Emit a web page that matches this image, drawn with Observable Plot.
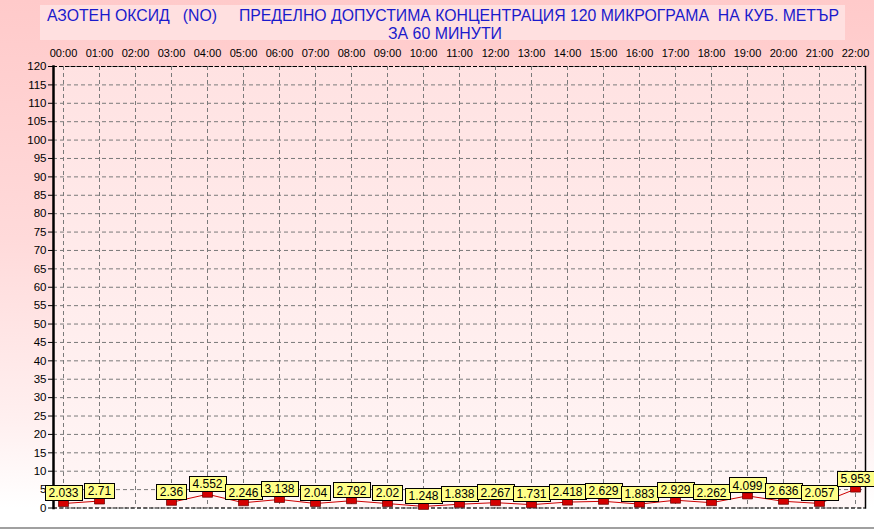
<!DOCTYPE html>
<html>
<head>
<meta charset="utf-8">
<script src="https://cdn.jsdelivr.net/npm/d3@7"></script>
<script src="https://cdn.jsdelivr.net/npm/@observablehq/plot@0.6"></script>
<style>
  html, body { margin: 0; padding: 0; }
  #wrap { position: relative; width: 874px; height: 529px; overflow: hidden;
    background: linear-gradient(to bottom, #ffcaca 0%, #ffdada 45%, #fff0f0 80%, #ffffff 96%);
    font-family: "Liberation Sans", Arial, sans-serif; }
  #titlebox { position: absolute; left: 40px; top: 5px; width: 805px; height: 35px; background: #ffe0e0; }
  #title { position: absolute; left: 0; top: 0; }
  #title text { white-space: pre; }
  #chart { position: absolute; left: 0; top: 0; }
  #bottomline { position: absolute; left: 0; top: 527px; width: 874px; height: 2px; background: #a0a0a0; }
</style>
</head>
<body>
<div id="wrap">
  <div id="titlebox"></div>
  <svg id="title" width="874" height="45">
    <text x="47" y="20.5" font-size="16.5" fill="#1a1acc" xml:space="preserve" textLength="792" lengthAdjust="spacingAndGlyphs" font-family="Liberation Sans, Arial, sans-serif">АЗОТЕН ОКСИД   (NO)     ПРЕДЕЛНО ДОПУСТИМА КОНЦЕНТРАЦИЯ 120 МИКРОГРАМА  НА КУБ. МЕТЪР</text>
    <text x="388" y="38.5" font-size="16.5" fill="#1a1acc" textLength="114" lengthAdjust="spacingAndGlyphs" font-family="Liberation Sans, Arial, sans-serif">ЗА 60 МИНУТИ</text>
  </svg>
  <div id="chart"></div>
  <div id="bottomline"></div>
</div>
<script>
const hours = ["00:00","01:00","02:00","03:00","04:00","05:00","06:00","07:00","08:00","09:00","10:00","11:00",
  "12:00","13:00","14:00","15:00","16:00","17:00","18:00","19:00","20:00","21:00","22:00"];
const values = [2.033, 2.71, null, 2.36, 4.552, 2.246, 3.138, 2.04, 2.792, 2.02, 1.248, 1.838,
  2.267, 1.731, 2.418, 2.629, 1.883, 2.929, 2.262, 4.099, 2.636, 2.057, 5.953];
const yTicks = [0,5,10,15,20,25,30,35,40,45,50,55,60,65,70,75,80,85,90,95,100,105,110,115,120];

const data = hours.map((h, i) => ({hour: h, value: values[i]}));
const present = data.filter(d => d.value != null);

const canvas = document.createElement("canvas");
const ctx = canvas.getContext("2d");
ctx.font = "12px 'Liberation Sans', Arial, sans-serif";

const markerSymbol = { draw(c) { c.rect(-5, -3, 10, 6); } };

function boxedLabels(index, scales, values, dimensions, context, next) {
  const g = next(index, scales, values, dimensions, context);
  const ns = "http://www.w3.org/2000/svg";
  const wrap = document.createElementNS(ns, "g");
  for (const i of index) {
    const x = values.x[i], y = values.y[i];
    const w = Math.round(ctx.measureText(values.text ? values.text[i] : "").width + 7);
    const r = document.createElementNS(ns, "rect");
    r.setAttribute("x", Math.round(x - w / 2) + 0.5);
    r.setAttribute("y", Math.round(y - 15) + 0.5);
    r.setAttribute("width", w);
    r.setAttribute("height", 15);
    r.setAttribute("fill", "#ffff88");
    r.setAttribute("stroke", "#000");
    r.setAttribute("stroke-width", "1");
    wrap.appendChild(r);
  }
  wrap.appendChild(g);
  return wrap;
}

const chart = Plot.plot({
  width: 874,
  height: 529,
  marginTop: 66,
  marginLeft: 53,
  marginRight: 9,
  marginBottom: 21.5,
  style: { background: "transparent", fontFamily: "'Liberation Sans', Arial, sans-serif", fontSize: "11px", color: "#000" },
  x: { type: "point", domain: hours, padding: 0, insetLeft: 5, insetRight: 4.5, axis: null },
  y: { domain: [0, 120], axis: null },
  marks: [
    Plot.frame({ fill: "url(#plotgrad)", stroke: "none" }),
    Plot.gridX(hours, { stroke: "#7a7a7a", strokeOpacity: 1, strokeDasharray: "4,3" }),
    Plot.gridY(yTicks, { stroke: "#7a7a7a", strokeOpacity: 1, strokeDasharray: "4,3" }),
    Plot.ruleY([120], { stroke: "#000", strokeDasharray: "4,2", strokeWidth: 1.2 }),
    Plot.ruleY([0], { stroke: "#000", strokeDasharray: "4,2", strokeWidth: 1.2 }),
    Plot.frame({ anchor: "left", stroke: "#000", strokeWidth: 2.5 }),
    Plot.frame({ anchor: "right", stroke: "#000", strokeWidth: 1.5 }),
    Plot.axisX(hours, { anchor: "top", tickSize: 0, tickPadding: 10, fontSize: 11, label: null }),
    Plot.axisY(yTicks, { anchor: "left", tickSize: 5, tickPadding: 2, fontSize: 11.5, label: null }),
    Plot.line(data, { x: "hour", y: "value", dy: 3, stroke: "#cc0000", strokeWidth: 1 }),
    Plot.dot(present, { x: "hour", y: "value", dy: 3, symbol: markerSymbol, r: 3, fill: "#d40000", stroke: "#600000", strokeWidth: 0.7 }),
    Plot.text(present, { x: "hour", y: "value", text: d => String(d.value), dy: -7, fontSize: 12, fill: "#000", render: boxedLabels })
  ]
});

d3.select(chart).insert("defs", ":first-child").html(
  '<linearGradient id="plotgrad" x1="0" y1="0" x2="0" y2="1">' +
  '<stop offset="0%" stop-color="#ffe2e2"/><stop offset="100%" stop-color="#fff6f6"/></linearGradient>');

document.getElementById("chart").appendChild(chart);
</script>
</body>
</html>
